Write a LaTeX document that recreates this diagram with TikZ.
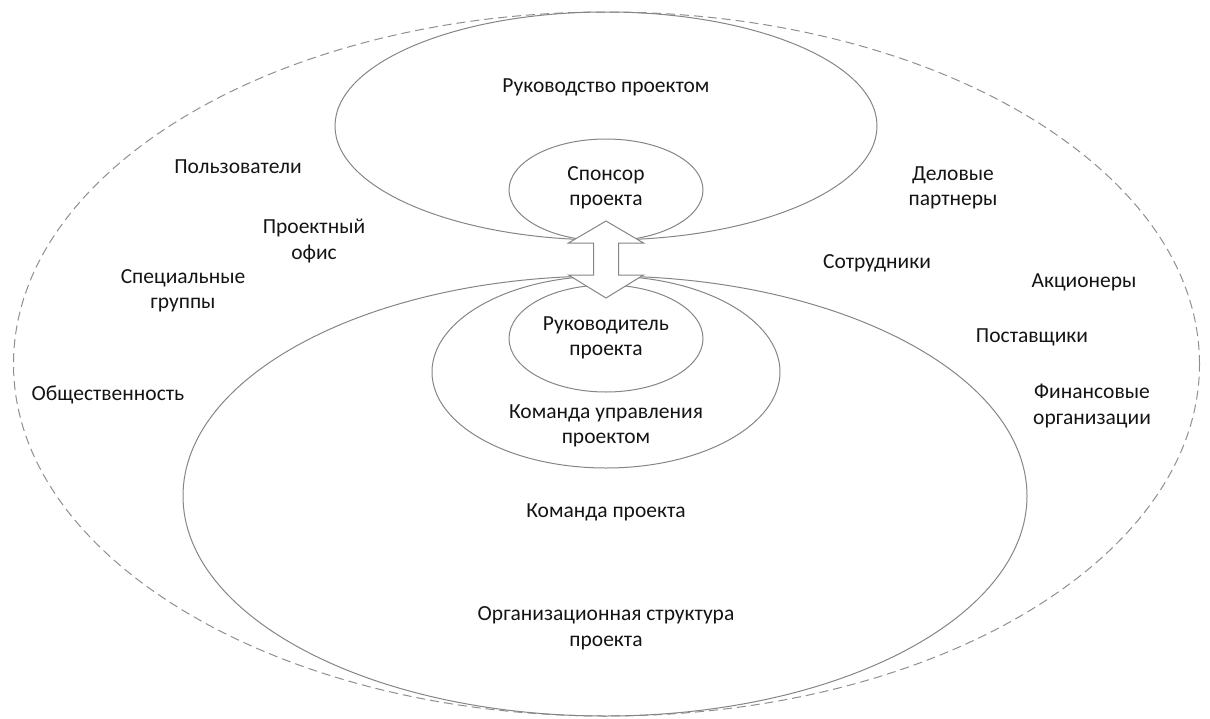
\documentclass[tikz,border=0pt]{standalone}
\usepackage{fontspec}
\setmainfont{Carlito}
\usetikzlibrary{shapes.geometric}
\definecolor{linegray}{HTML}{858585}
\definecolor{dashgray}{HTML}{8F8F8F}
\definecolor{txt}{HTML}{141414}
\tikzset{
  oval/.style={ellipse, draw=linegray, line width=1pt, inner sep=0pt},
  outer/.style={ellipse, draw=dashgray, line width=1pt, inner sep=0pt, dash pattern=on 9pt off 5pt},
  lbl/.style={text=txt, font=\fontsize{21.5}{25.5}\selectfont, align=center, inner sep=0pt},
  dblarrow/.style={draw=linegray, line width=1pt, fill=white, line join=miter}
}
\begin{document}
\begin{tikzpicture}[x=1pt,y=-1pt]
\useasboundingbox (0,0) rectangle (1210,718);
% outer dashed ellipse
\node[outer, minimum width=1186pt, minimum height=704pt] (env) at (606.5,364) {};
% top ellipses
\node[oval, minimum width=542pt, minimum height=228pt] (gov) at (606,126) {};
\node[oval, minimum width=194pt, minimum height=102pt] (spon) at (606,190) {};
% bottom ellipses
\node[oval, minimum width=844pt, minimum height=440pt] (org) at (605,496) {};
\node[oval, minimum width=348pt, minimum height=192pt] (pmt) at (606,372) {};
\node[oval, minimum width=194pt, minimum height=107pt] (pm) at (606,338.5) {};
% double arrow
\coordinate (at) at (606,221);
\coordinate (ab) at (606,298);
\draw[dblarrow] (at) -- (643.5,243) -- (618.5,243) -- (618.5,275) -- (643.5,275)
  -- (ab) -- (568.5,275) -- (593.5,275) -- (593.5,243) -- (568.5,243) -- cycle;
% inner labels
\node[lbl] (tgov) at (606,87) {Руководство проектом};
\node[lbl] (tspon) at (606,188) {Спонсор\\проекта};
\node[lbl] (tpm) at (606,338) {Руководитель\\проекта};
\node[lbl] (tpmt) at (606,426) {Команда управления\\проектом};
\node[lbl] (tteam) at (606,512) {Команда проекта};
\node[lbl] (torg) at (606,628) {Организационная структура\\проекта};
% outer labels
\node[lbl] (users) at (238,167) {Пользователи};
\node[lbl] (office) at (314,241) {Проектный\\офис};
\node[lbl] (groups) at (183,291) {Специальные\\группы};
\node[lbl] (public) at (108,395) {Общественность};
\node[lbl] (partners) at (953,188) {Деловые\\партнеры};
\node[lbl] (staff) at (877,263) {Сотрудники};
\node[lbl] (share) at (1084,282) {Акционеры};
\node[lbl] (supp) at (1032,337) {Поставщики};
\node[lbl] (fin) at (1092,406) {Финансовые\\организации};
\end{tikzpicture}
\end{document}
